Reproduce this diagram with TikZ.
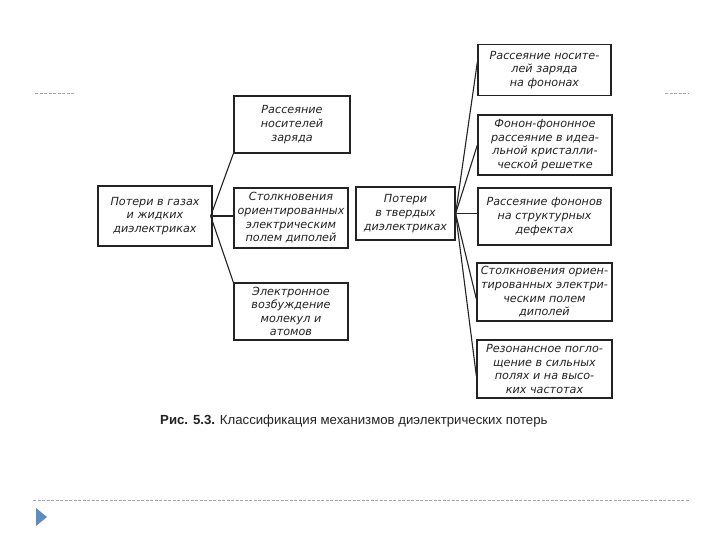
\documentclass[tikz,border=0pt]{standalone}
\usepackage{fontspec}
\setmainfont{Liberation Sans}
\newfontfamily\handfont{DejaVu Sans}
\definecolor{ink}{RGB}{35,35,35}
\definecolor{deco}{RGB}{160,165,170}
\definecolor{tri}{RGB}{95,140,190}
\begin{document}
\begin{tikzpicture}[x=1pt,y=-1pt,
  box/.style={draw=ink, line width=1.3pt, inner sep=0pt, align=center, text=ink,
    font=\handfont\itshape\fontsize{11.2}{13.6}\selectfont},
  link/.style={draw=ink, line width=1.1pt},
  decoline/.style={draw=deco, line width=0.8pt, dash pattern=on 3pt off 1.5pt}]
\useasboundingbox[fill=white] (0,0) rectangle (720,540);
% boxes
\node[box, minimum width=114pt, minimum height=60pt] (L) at (155,216) {Потери в газах\\и жидких\\диэлектриках};
\node[box, minimum width=116pt, minimum height=57pt] (M1) at (292,124.5) {Рассеяние\\носителей\\заряда};
\node[box, minimum width=114pt, minimum height=60pt] (M2) at (291,218) {Столкновения\\ориентированных\\электрическим\\полем диполей};
\node[box, minimum width=114pt, minimum height=57pt] (M3) at (291,311.5) {Электронное\\возбуждение\\молекул и\\атомов};
\node[box, minimum width=99pt, minimum height=53pt] (C) at (405.5,213.5) {Потери\\в твердых\\диэлектриках};
\node[box, minimum width=133pt, minimum height=51pt] (R1) at (544.5,70) {Рассеяние носите-\\лей заряда\\на фононах};
\node[box, minimum width=134pt, minimum height=60pt] (R2) at (545,145) {Фонон-фононное\\рассеяние в идеа-\\льной кристалли-\\ческой решетке};
\node[box, minimum width=133pt, minimum height=57pt] (R3) at (544.5,216.5) {Рассеяние фононов\\на структурных\\дефектах};
\node[box, minimum width=135pt, minimum height=58pt] (R4) at (544.5,292) {Столкновения ориен-\\тированных электри-\\ческим полем\\диполей};
\node[box, minimum width=135pt, minimum height=58pt] (R5) at (544.5,369) {Резонансное погло-\\щение в сильных\\полях и на высо-\\ких частотах};
% connectors
\coordinate (lf) at ([xshift=-2pt]L.east);
\draw[link] (lf) -- (M1.south west);
\draw[link] (lf) -- (M2.west |- lf);
\draw[link] (lf) -- (M3.north west);
\coordinate (rf) at (C.east);
\draw[link] (rf) -- ([yshift=8pt]R1.west);
\draw[link] (rf) -- (R2.west);
\draw[link] (rf) -- (R3.west |- rf);
\draw[link] (rf) -- ([yshift=-7pt]R4.west);
\draw[link] (rf) -- ([yshift=-7pt]R5.west);
% caption
\node[text=ink, font=\fontsize{13.2}{15}\selectfont, anchor=west, inner sep=0pt] (cap) at (160,421) {\textbf{Рис. 5.3.} Классификация механизмов диэлектрических потерь};
% slide decoration
\coordinate (d1a) at (35,93); \coordinate (d1b) at (75,93);
\coordinate (d2a) at (665,93); \coordinate (d2b) at (688,93);
\coordinate (d3a) at (33,500); \coordinate (d3b) at (690,500);
\draw[decoline] (d1a) -- (d1b);
\draw[decoline] (d2a) -- (d2b);
\draw[decoline] (d3a) -- (d3b);
\fill[tri] (36,508) -- (47,517) -- (36,526) -- cycle;
\end{tikzpicture}
\end{document}
